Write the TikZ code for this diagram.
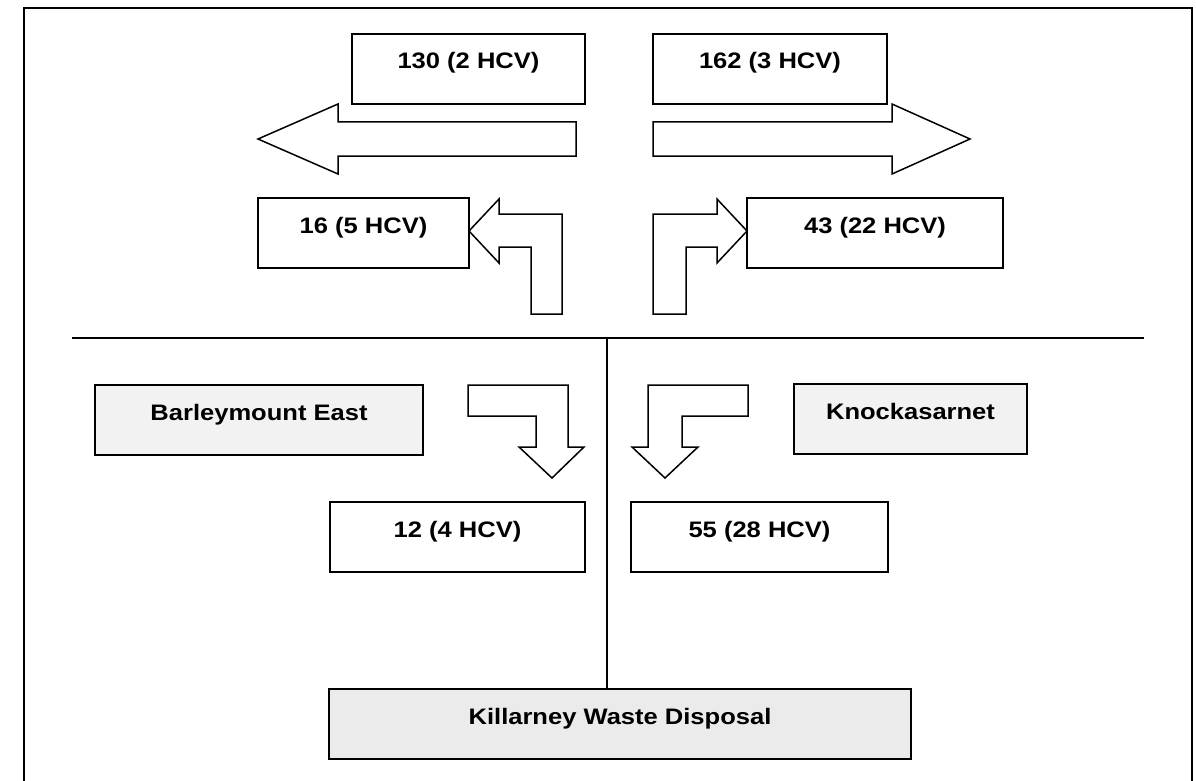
\documentclass[tikz,border=0pt]{standalone}
\usepackage{fontspec}
\setmainfont[FakeStretch=1.14]{Liberation Sans}

\begin{document}
\begin{tikzpicture}[x=1pt,y=-1pt,line width=1.5pt,
    box/.style={draw,anchor=north west,inner sep=0pt,outer sep=0pt,text height=35pt,text depth=35pt,font=\fontsize{22.4}{27}\selectfont\bfseries},
    place/.style={box,fill=black!5},
    blockarrow/.style={draw,fill=white,line join=miter}]
    \useasboundingbox(0,0)rectangle(1196,781);
    % frame
    \draw(24,781)--(24,8)--(1192,8)--(1192,781);
    % through movements
    \node[box,minimum width=233pt](thruW)at(352,34){130 (2 HCV)};
    \node[box,minimum width=234pt](thruE)at(653,34){162 (3 HCV)};
    \draw[blockarrow](576,122)--(338,122)--(338,104)--(258,139)--(338,174)--(338,156)--(576,156)--cycle;
    \draw[blockarrow](653,122)--(892,122)--(892,104)--(970,139)--(892,174)--(892,156)--(653,156)--cycle;
    % turns out of the site road
    \node[box,minimum width=211pt](outW)at(258,198){16 (5 HCV)};
    \node[box,minimum width=256pt](outE)at(747,198){43 (22 HCV)};
    \draw[blockarrow](562,314)--(562,214)--(499,214)--(499,199)--(outW.east|-0,231)--(499,263)--(499,247)--(531,247)--(531,314)--cycle;
    \draw[blockarrow](653,314)--(653,214)--(717,214)--(717,199)--(outE.west|-0,231)--(717,263)--(717,247)--(686,247)--(686,314)--cycle;
    % main road and site road
    \coordinate(roadW)at(72,338);
    \coordinate(roadE)at(1144,338);
    \coordinate(split)at(607,338);
    \draw[line width=1.3pt](roadW)--(roadE);
    % origins
    \node[place,minimum width=328pt](bme)at(95,385){Barleymount East};
    \node[place,minimum width=233pt](kno)at(794,384){Knockasarnet};
    % turns into the site road
    \draw[blockarrow](468,385)--(568,385)--(568,447)--(584,447)--(552,478)--(519,447)--(536,447)--(536,416)--(468,416)--cycle;
    \draw[blockarrow](748,385)--(648,385)--(648,447)--(632,447)--(665,478)--(698,447)--(682,447)--(682,416)--(748,416)--cycle;
    \node[box,minimum width=255pt](inW)at(330,502){12 (4 HCV)};
    \node[box,minimum width=257pt](inE)at(631,502){55 (28 HCV)};
    % destination
    \node[place,fill=black!8,minimum width=582pt](kwd)at(329,689){Killarney Waste Disposal};
    \draw[line width=1.3pt](split)--(split|-kwd.north);
\end{tikzpicture}
\end{document}
